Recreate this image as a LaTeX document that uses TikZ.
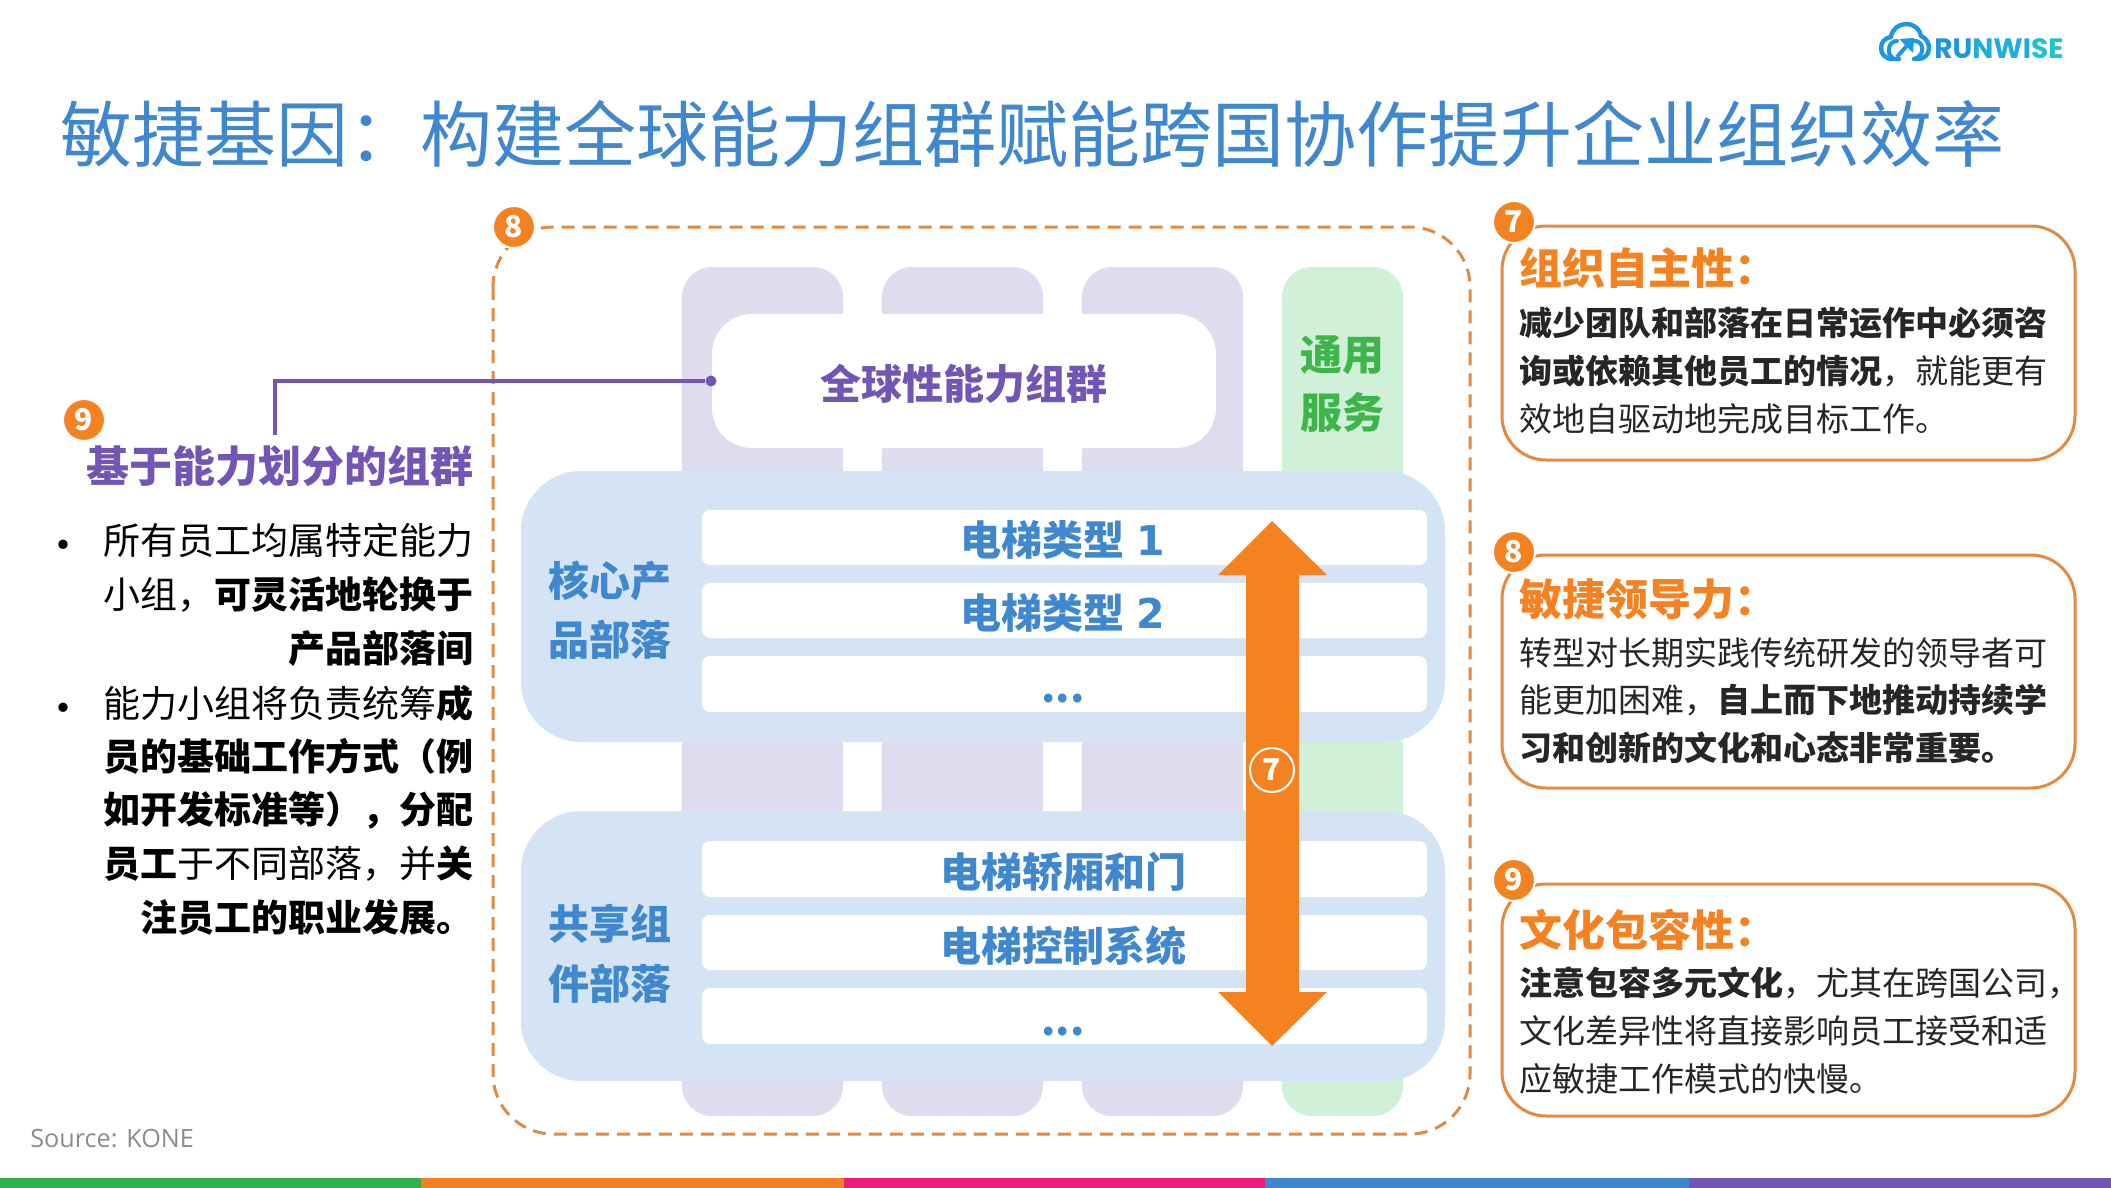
\documentclass[tikz,border=0pt]{standalone}
\usepackage{fontspec}
\setmainfont{Noto Sans CJK SC}
\newfontfamily\srcfont{Open Sans}
\newfontfamily\logofont{Poppins}
\newfontfamily\digitfont{DejaVu Sans}
\definecolor{titleblue}{HTML}{3F87CE}
\definecolor{orangeline}{HTML}{E38A42}
\definecolor{orangefill}{HTML}{F58220}
\definecolor{purpletext}{HTML}{7355B5}
\definecolor{purplecol}{HTML}{E0DCF0}
\definecolor{greencol}{HTML}{D0F0D8}
\definecolor{greentext}{HTML}{3DB54A}
\definecolor{bandblue}{HTML}{D5E4F4}
\definecolor{bodytext}{HTML}{262626}
\definecolor{logoa}{HTML}{1E96E0}
\definecolor{logob}{HTML}{1EAEDC}
\definecolor{logoc}{HTML}{1FC2D2}
\definecolor{bargreen}{HTML}{2DB34A}
\definecolor{barorange}{HTML}{F08024}
\definecolor{barpink}{HTML}{EE1C7C}
\tikzset{
  txt/.style={inner sep=0pt,text height=1.1em,text depth=0em},
  ltxt/.style={txt,anchor=west},
  rtxt/.style={txt,anchor=east},
  colbox/.style={fill=purplecol,rounded corners=15pt},
  band/.style={fill=bandblue,rounded corners=30pt},
  rowbox/.style={fill=white,rounded corners=4pt},
  callout/.style={draw=orangeline,line width=1.5pt,rounded corners=22pt,fill=white},
  badge/.style={circle,fill=orangefill,draw=white,line width=1pt,minimum size=21pt,inner sep=0pt,text=white,font=\fontsize{15}{15}\selectfont\bfseries},
  rowlabel/.style={txt,yshift=-2pt,text=titleblue,font=\fontsize{20.5}{20.5}\selectfont\bfseries},
  bandlabel/.style={txt,yshift=-2.5pt,text=titleblue,font=\fontsize{20.5}{20.5}\selectfont\bfseries},
  bodyleft/.style={rtxt,yshift=-1.5pt,text=black,font=\fontsize{18.5}{18.5}\selectfont},
  calloutbody/.style={ltxt,yshift=-.7pt,text=bodytext,font=\fontsize{16.5}{16.5}\selectfont},
  callouthead/.style={ltxt,yshift=-2.5pt,text=orangefill,font=\fontsize{21.5}{21.5}\selectfont\bfseries}
}
\begin{document}
\begin{tikzpicture}[x=0.5pt,y=-0.5pt]
\useasboundingbox (0,0) rectangle (2111,1188);
\fill[white] (0,0) rectangle (2111,1188);
% bottom bar
\fill[bargreen] (0,1178) rectangle (421,1188);
\fill[barorange] (421,1178) rectangle (844,1188);
\fill[barpink] (844,1178) rectangle (1265,1188);
\fill[titleblue] (1265,1178) rectangle (1689,1188);
\fill[purpletext] (1689,1178) rectangle (2111,1188);
% logo
\draw[logoa,line width=2.2pt,line cap=round,line join=round]
  (1899,59) -- (1893,59) .. controls (1885,59) and (1881,54) .. (1881,48)
  .. controls (1881,42) and (1885,38) .. (1891,37)
  .. controls (1892,29) and (1899,24) .. (1906,24)
  .. controls (1914,24) and (1920,29) .. (1921,36)
  .. controls (1926,38) and (1929,43) .. (1929,48)
  .. controls (1929,55) and (1924,59) .. (1918,59) -- (1914,59);
\draw[logoa,line width=2pt,line cap=round] (1914,41) .. controls (1924,40) and (1926,56) .. (1914,59);
\draw[logoa,line width=2pt,line cap=round] (1897,41) .. controls (1888,41) and (1886,54) .. (1893,58);
\draw[logoa,line width=2pt] (1897,57) -- (1910,42);
\fill[logoa] (1899,39) -- (1914,38) -- (1913,53) -- cycle;
\node[ltxt,font=\logofont\fontsize{14}{14}\selectfont\bfseries] (logo) at (1934,48)
  {\textcolor{logoa}{RU}\textcolor{logob}{NWI}\textcolor{logoc}{SE}};
% title
\node[ltxt,text=titleblue,font=\fontsize{36}{36}\selectfont] (title) at (60,151)
  {敏捷基因：构建全球能力组群赋能跨国协作提升企业组织效率};
% source
\node[ltxt,text=black!45,font=\srcfont\fontsize{12.6}{12.6}\selectfont] (source) at (30,1136) {Source: KONE};
% columns
\fill[colbox] (682,267) rectangle (843,1116);
\fill[colbox] (882,267) rectangle (1043,1116);
\fill[colbox] (1082,267) rectangle (1243,1116);
\fill[colbox,fill=greencol] (1282,267) rectangle (1403,1116);
\node[fill=white,rounded corners=20pt,minimum width=252pt,minimum height=67pt,inner sep=0pt] (global) at (964,381) {};
\node[txt,text=purpletext,font=\fontsize{20.5}{20.5}\selectfont\bfseries] (globallabel) at (964,388) {全球性能力组群};
\node[txt,text=greentext,font=\fontsize{21}{21}\selectfont\bfseries] (gena) at (1342,359) {通用};
\node[txt,text=greentext,font=\fontsize{21}{21}\selectfont\bfseries] (genb) at (1342,417) {服务};
% dashed frame
\draw[orangeline,line width=1.5pt,dash pattern=on 6.5pt off 4pt,rounded corners=30pt] (493,227) rectangle (1470,1134);
% bands
\fill[band] (521,471) rectangle (1445,742);
\fill[band] (521,811) rectangle (1445,1081);
\fill[rowbox] (702,510) rectangle (1427,565);
\fill[rowbox] (702,583) rectangle (1427,638);
\fill[rowbox] (702,656) rectangle (1427,712);
\fill[rowbox] (702,841) rectangle (1427,897);
\fill[rowbox] (702,915) rectangle (1427,970);
\fill[rowbox] (702,988) rectangle (1427,1044);
\node[bandlabel] (coreA) at (610,580) {核心产};
\node[bandlabel] (coreB) at (610,639) {品部落};
\node[bandlabel] (shareA) at (610,923) {共享组};
\node[bandlabel] (shareB) at (610,983) {件部落};
\node[rowlabel] (r1) at (1063,540) {电梯类型\hspace{.3em}{\digitfont 1}};
\node[rowlabel] (r2) at (1063,613) {电梯类型\hspace{.3em}{\digitfont 2}};
\node[rowlabel] (r3) at (1063,687) {...};
\node[rowlabel] (r4) at (1063,872) {电梯轿厢和门};
\node[rowlabel] (r5) at (1063,946) {电梯控制系统};
\node[rowlabel] (r6) at (1063,1020) {...};
% big arrow
\fill[orangefill] (1272,521) -- (1327,575) -- (1299,575) -- (1299,992) -- (1327,992) -- (1272,1046) -- (1218,992) -- (1246,992) -- (1246,575) -- (1218,575) -- cycle;
\node[circle,draw=white,line width=1pt,minimum size=22pt,inner sep=0pt,text=white,font=\fontsize{15}{15}\selectfont\bfseries] (seven) at (1272,770) {7};
% connector
\node[circle,fill=purpletext,minimum size=5.5pt,inner sep=0pt] (dot) at (711,381) {};
\coordinate (connEnd) at (275,435);
\draw[purpletext,line width=2pt] (connEnd) |- (dot);
% left text
\node[badge] (b9a) at (84,420) {9};
\node[rtxt,text=purpletext,font=\fontsize{21.5}{21.5}\selectfont\bfseries] (lhead) at (474,471) {基于能力划分的组群};
\node[txt,font=\fontsize{22}{22}\selectfont] (bula) at (63,550) {•};
\node[txt,font=\fontsize{22}{22}\selectfont] (bulb) at (63,713) {•};
\node[bodyleft] (l1) at (474,540) {所有员工均属特定能力};
\node[bodyleft] (l2) at (474,594) {小组，\textbf{可灵活地轮换于}};
\node[bodyleft] (l3) at (474,648) {\textbf{产品部落间}};
\node[bodyleft] (l4) at (474,703) {能力小组将负责统筹\textbf{成}};
\node[bodyleft] (l5) at (474,756) {\textbf{员的基础工作方式（例}};
\node[bodyleft] (l6) at (474,809) {\textbf{如开发标准等），分配}};
\node[bodyleft] (l7) at (474,863) {\textbf{员工}于不同部落，并\textbf{关}};
\node[bodyleft] (l8) at (474,917) {\textbf{注员工的职业发展。}};
\node[badge] (b8a) at (514,227) {8};
% callouts
\draw[callout] (1502,226) rectangle (2075,460);
\draw[callout] (1502,555) rectangle (2075,788);
\draw[callout] (1502,884) rectangle (2075,1116);
\node[badge] (b7) at (1514,222) {7};
\node[badge] (b8) at (1514,552) {8};
\node[badge] (b9) at (1514,880) {9};
\node[callouthead] (h1) at (1519,269) {组织自主性：};
\node[calloutbody] (c11) at (1519,323) {\textbf{减少团队和部落在日常运作中必须咨}};
\node[calloutbody] (c12) at (1519,371) {\textbf{询或依赖其他员工的情况}，就能更有};
\node[calloutbody] (c13) at (1519,419) {效地自驱动地完成目标工作。};
\node[callouthead] (h2) at (1519,599) {敏捷领导力：};
\node[calloutbody] (c21) at (1519,653) {转型对长期实践传统研发的领导者可};
\node[calloutbody] (c22) at (1519,700) {能更加困难，\textbf{自上而下地推动持续学}};
\node[calloutbody] (c23) at (1519,748) {\textbf{习和创新的文化和心态非常重要。}};
\node[callouthead] (h3) at (1519,930) {文化包容性：};
\node[calloutbody] (c31) at (1519,983) {\textbf{注意包容多元文化}，尤其在跨国公司，};
\node[calloutbody] (c32) at (1519,1031) {文化差异性将直接影响员工接受和适};
\node[calloutbody] (c33) at (1519,1079) {应敏捷工作模式的快慢。};
\end{tikzpicture}
\end{document}
